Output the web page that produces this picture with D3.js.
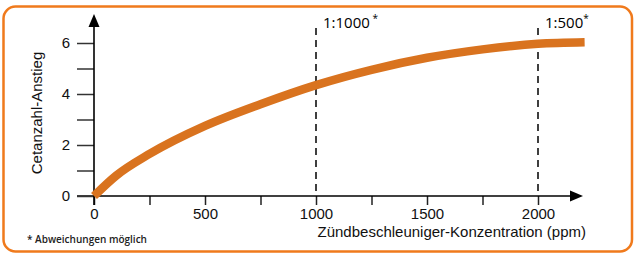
<!DOCTYPE html>
<html>
<head>
<meta charset="utf-8">
<script src="https://cdn.jsdelivr.net/npm/d3@7"></script>
<style>
  body { margin: 0; background: #fff; }
  svg { display: block; }
</style>
</head>
<body>
<svg id="chart" width="636" height="254"></svg>
<script>
// Daten
const ppm = [0, 100, 250, 500, 750, 1000, 1250, 1500, 1750, 2000, 2210];
const anstieg = [0, 0.8, 1.65, 2.75, 3.6, 4.35, 4.95, 5.42, 5.75, 5.97, 6.03];
const xTicks = [0, 250, 500, 750, 1000, 1250, 1500, 1750, 2000];
const xLabels = [0, 500, 1000, 1500, 2000];
const yTicks = [0, 1, 2, 3, 4, 5, 6];
const yLabels = [0, 2, 4, 6];
const markers = [{ppm: 1000, label: "1:1000", star: " *"}, {ppm: 2000, label: "1:500", star: "*"}];

const svg = d3.select("#chart");
const orange = "#d9731f";

// Rahmen
svg.append("rect")
  .attr("x", 3.5).attr("y", 6.5).attr("width", 628.5).attr("height", 245)
  .attr("rx", 12).attr("fill", "none")
  .attr("stroke", "#f07a1c").attr("stroke-width", 2.5);

const x = d3.scaleLinear().domain([0, 2000]).range([94, 538]);
const y = d3.scaleLinear().domain([0, 6]).range([196, 43]);

// Gestrichelte Linien
svg.selectAll(".marker").data(markers).enter().append("line")
  .attr("x1", d => x(d.ppm)).attr("x2", d => x(d.ppm))
  .attr("y1", 28).attr("y2", y(0))
  .attr("stroke", "#000").attr("stroke-width", 1.5)
  .attr("stroke-dasharray", "7,5");

svg.selectAll(".mlabel").data(markers).enter().append("text")
  .attr("x", d => x(d.ppm) + 7).attr("y", 28)
  .style("font-family", "'Open Sans', sans-serif").style("font-size", "15px")
  .attr("fill", "#000")
  .text(d => d.label)
  .append("tspan").attr("dy", -6).style("font-size", "10px").text(d => d.star);

// X-Achse
const xAxis = svg.append("g").attr("transform", `translate(0,${y(0)})`);
xAxis.call(d3.axisBottom(x).tickValues(xTicks).tickSize(9).tickFormat(d => xLabels.includes(d) ? d : ""))
  .call(g => g.select(".domain").remove());
xAxis.selectAll(".tick line").attr("stroke", "#222").attr("stroke-width", 1.5);
xAxis.selectAll(".tick text")
  .style("font-family", "'Liberation Sans', Arial, sans-serif").style("font-size", "15px")
  .attr("fill", "#111");
svg.append("line").attr("x1", x(0) - 17).attr("x2", 572).attr("y1", y(0)).attr("y2", y(0))
  .attr("stroke", "#000").attr("stroke-width", 1.6);
svg.append("path").attr("d", `M583,${y(0)} L570,${y(0) - 5.5} L570,${y(0) + 5.5} Z`).attr("fill", "#000");

// Y-Achse
const yAxis = svg.append("g").attr("transform", `translate(${x(0)},0)`);
yAxis.call(d3.axisLeft(y).tickValues(yTicks).tickSize(17).tickFormat(d => yLabels.includes(d) ? d : ""))
  .call(g => g.select(".domain").remove());
yAxis.selectAll(".tick line").attr("stroke", "#333").attr("stroke-width", 1.5);
yAxis.selectAll(".tick text")
  .style("font-family", "'Liberation Sans', Arial, sans-serif").style("font-size", "15px")
  .attr("fill", "#111").attr("dx", "-4");
svg.append("line").attr("x1", x(0)).attr("x2", x(0)).attr("y1", y(0) + 9).attr("y2", 25)
  .attr("stroke", "#000").attr("stroke-width", 1.6);
svg.append("path").attr("d", `M${x(0)},14 L${x(0) - 5.5},27 L${x(0) + 5.5},27 Z`).attr("fill", "#000");

// Kurve
const line = d3.line().x((d, i) => x(ppm[i])).y(d => y(d)).curve(d3.curveMonotoneX);
svg.append("path").datum(anstieg)
  .attr("d", line).attr("fill", "none")
  .attr("stroke", orange).attr("stroke-width", 8.5);

// Achsentitel
svg.append("text")
  .attr("transform", `translate(42,113) rotate(-90)`)
  .attr("text-anchor", "middle")
  .style("font-family", "'Liberation Sans', Arial, sans-serif").style("font-size", "15px")
  .attr("fill", "#111")
  .text("Cetanzahl-Anstieg");

svg.append("text")
  .attr("x", 586).attr("y", 237).attr("text-anchor", "end")
  .style("font-family", "'Liberation Sans', Arial, sans-serif").style("font-size", "15px")
  .attr("fill", "#111")
  .text("Zündbeschleuniger-Konzentration (ppm)");

svg.append("text")
  .attr("x", 27).attr("y", 243)
  .style("font-family", "'Open Sans', sans-serif").style("font-size", "10px").style("font-weight", 600)
  .attr("fill", "#222")
  .text("* Abweichungen möglich");
</script>
</body>
</html>
